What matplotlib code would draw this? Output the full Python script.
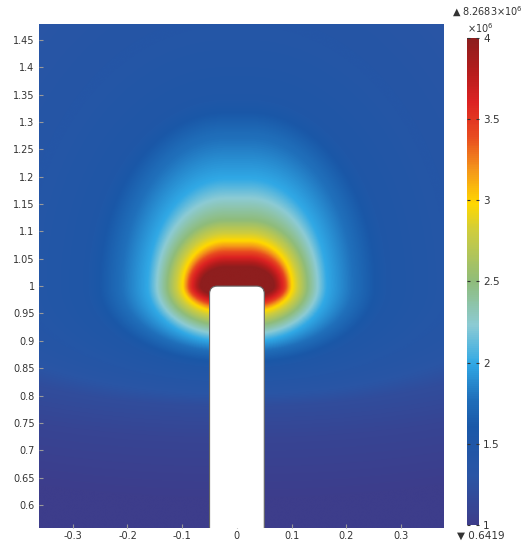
import numpy as np
import matplotlib
matplotlib.use('Agg')
import matplotlib.pyplot as plt
from matplotlib.colors import LinearSegmentedColormap
from matplotlib.patches import FancyBboxPatch

# field levels (x1e6) and where each contour sits around the tip
levels = [4.0, 3.5, 3.0, 2.5, 2.0, 1.75, 1.5, 1.42, 1.35, 1.2, 1.1, 1.0]
reach_up = [0.034, 0.057, 0.081, 0.12, 0.194, 0.28, 0.34, 0.45, 0.6, 0.8, 1.0, 1.3]
reach_side = [0.047, 0.066, 0.079, 0.108, 0.143, 0.198, 0.253, 0.345, 0.465, 0.615, 0.815, 1.015]
reach_down = [0.0195, 0.034, 0.048, 0.073, 0.102, 0.122, 0.15, 0.17, 0.19, 0.22, 0.28, 0.4]

x_ticks = [-0.3, -0.2, -0.1, 0, 0.1, 0.2, 0.3]
x_labels = ['-0.3', '-0.2', '-0.1', '0', '0.1', '0.2', '0.3']
y_ticks = [0.6, 0.65, 0.7, 0.75, 0.8, 0.85, 0.9, 0.95, 1.0, 1.05, 1.1, 1.15,
           1.2, 1.25, 1.3, 1.35, 1.4, 1.45]
y_labels = ['0.6', '0.65', '0.7', '0.75', '0.8', '0.85', '0.9', '0.95', '1', '1.05',
            '1.1', '1.15', '1.2', '1.25', '1.3', '1.35', '1.4', '1.45']
cb_ticks = [1, 1.5, 2, 2.5, 3, 3.5, 4]
cb_labels = ['1', '1.5', '2', '2.5', '3', '3.5', '4']
max_text = '8.2683'
min_text = '0.6419'

# electrode geometry
tip_y = 1.0
half_w = 0.05
flat_half = 0.02

# COMSOL-like rainbow
cmap = LinearSegmentedColormap.from_list('rainbow_comsol', [
    (0.0, '#3d3d8b'), (0.1, '#2a55a5'), (0.2, '#1a58a8'), (0.26, '#2070bb'),
    (0.33, '#30a8e5'), (0.41, '#8ccbd4'), (0.5, '#8fbc7a'), (0.6, '#cccc40'),
    (0.66, '#ffd800'), (0.73, '#f4961a'), (0.8, '#e84a20'), (0.87, '#dc2222'),
    (0.94, '#b01c1c'), (1.0, '#8e1e1e')])

x0, x1 = -0.362, 0.377
y0, y1 = 0.558, 1.479
xx, yy = np.meshgrid(np.linspace(x0, x1, 700), np.linspace(y0, y1, 880))
dx = np.maximum(np.abs(xx) - flat_half, 0)
dy = yy - tip_y
r = np.sqrt(dx ** 2 + dy ** 2) + 1e-9
c = dx / r
s = dy / r

# radius of each level's contour along the direction of every pixel
S = np.array(reach_side)[:, None, None]
V = np.where(dy[None] >= 0, np.array(reach_up)[:, None, None],
             np.array(reach_down)[:, None, None])
R = 1 / np.sqrt((c[None] / S) ** 2 + (s[None] / V) ** 2)

E = np.full(r.shape, levels[-1])
E[r < R[0]] = 4.5
for k in range(len(levels) - 1):
    m = (r >= R[k]) & (r < R[k + 1])
    f = (r - R[k]) / (R[k + 1] - R[k])
    E[m] = (levels[k] + (levels[k + 1] - levels[k]) * f)[m]

fig = plt.figure(figsize=(5.28, 5.42), dpi=100)
ax = fig.add_axes([0.072, 0.0258, 0.769, 0.93])
im = ax.imshow(E, extent=[x0, x1, y0, y1], origin='lower', cmap=cmap,
               vmin=1, vmax=4, interpolation='bilinear', aspect='equal')
tip = FancyBboxPatch((-half_w + 0.014, 0.3), 2 * half_w - 0.028, tip_y - 0.3 - 0.014,
                     boxstyle='round,pad=0.014', fc='white', ec='#666666', lw=0.8, zorder=3)
ax.add_patch(tip)
ax.set_xlim(x0, x1)
ax.set_ylim(y0, y1)
ax.set_xticks(x_ticks)
ax.set_xticklabels(x_labels)
ax.set_yticks(y_ticks)
ax.set_yticklabels(y_labels)
ax.tick_params(direction='in', length=3, color='#999999', labelsize=7,
               labelcolor='#333333', pad=3)
ax.tick_params(axis='x', pad=2)
for sp in ax.spines.values():
    sp.set_visible(False)

cax = fig.add_axes([0.884, 0.0314, 0.0233, 0.8985])
cb = fig.colorbar(im, cax=cax)
cb.set_ticks(cb_ticks)
cb.set_ticklabels(cb_labels)
cb.outline.set_visible(False)
cax.tick_params(direction='in', length=2.5, color='#333333', labelsize=7.5,
                labelcolor='#333333', pad=3, left=True)

fig.text(0.857, 0.978, '\u25b2 ' + max_text + '\u00d710$^6$', fontsize=7,
         color='#333333', ha='left', va='center')
fig.text(0.91, 0.948, '\u00d710$^6$', fontsize=7, color='#333333', ha='center', va='center')
fig.text(0.865, 0.012, '\u25bc ' + min_text, fontsize=7.5, color='#333333',
         ha='left', va='center')

fig.savefig('out.png', dpi=100)
